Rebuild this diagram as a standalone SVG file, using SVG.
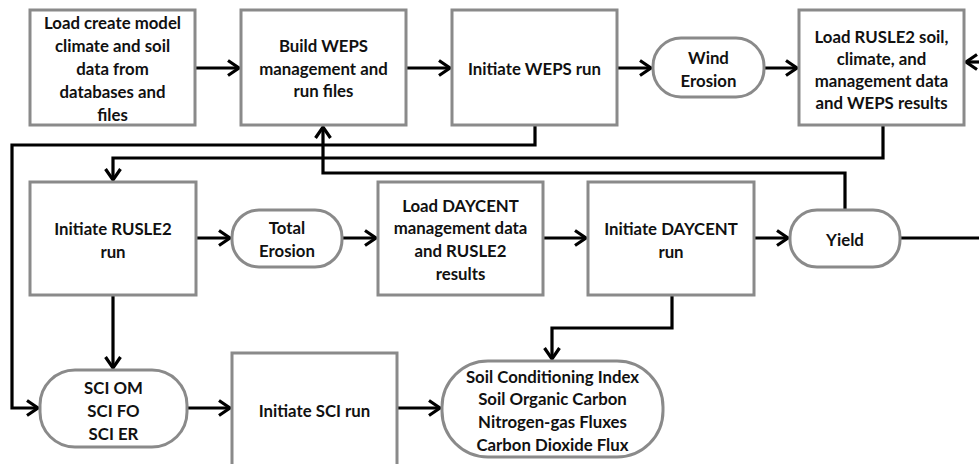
<svg xmlns="http://www.w3.org/2000/svg" width="979" height="464" viewBox="0 0 979 464">
<defs>
<marker id="ah" markerUnits="userSpaceOnUse" markerWidth="16" markerHeight="20" refX="13" refY="9" orient="auto">
<path d="M2,1.5 L13,9 L2,16.5" fill="none" stroke="#000" stroke-width="3.2" stroke-linejoin="miter"/>
</marker>
<style>
.box{fill:#fff;stroke:#8a8a8a;stroke-width:3}
.t{font-family:Lato,"Open Sans","Liberation Sans",sans-serif;font-weight:bold;font-size:16.8px;fill:#111;text-anchor:middle}
.c{fill:none;stroke:#000;stroke-width:3.2}
</style>
</defs>
<rect width="979" height="464" fill="#fff"/>
<g id="connectors">
<path class="c" d="M195,68 H239" marker-end="url(#ah)"/>
<path class="c" d="M406,68 H450" marker-end="url(#ah)"/>
<path class="c" d="M617,68 H651" marker-end="url(#ah)"/>
<path class="c" d="M764,68 H797" marker-end="url(#ah)"/>
<path class="c" d="M979,62 H966" marker-end="url(#ah)"/>
<path class="c" d="M535,125 V145 H12 V408 H38" marker-end="url(#ah)"/>
<path class="c" d="M883,125 V158 H113 V180" marker-end="url(#ah)"/>
<path class="c" d="M845,210 V173 H323 V127" marker-end="url(#ah)"/>
<path class="c" d="M196,238 H230" marker-end="url(#ah)"/>
<path class="c" d="M342,238 H376" marker-end="url(#ah)"/>
<path class="c" d="M543,238 H586" marker-end="url(#ah)"/>
<path class="c" d="M754,238 H788" marker-end="url(#ah)"/>
<path class="c" d="M900,238 H979"/>
<path class="c" d="M672,295 V328 H552 V359" marker-end="url(#ah)"/>
<path class="c" d="M113,295 V368" marker-end="url(#ah)"/>
<path class="c" d="M187,408 H230" marker-end="url(#ah)"/>
<path class="c" d="M397,408 H440" marker-end="url(#ah)"/>
</g>
<g id="load-create">
<rect class="box" x="30" y="10" width="165" height="115"/>
<text class="t" x="112.5" y="29">Load create model</text>
<text class="t" x="112.5" y="52">climate and soil</text>
<text class="t" x="112.5" y="75">data from</text>
<text class="t" x="112.5" y="98">databases and</text>
<text class="t" x="112.5" y="121">files</text>
</g>
<g id="build-weps">
<rect class="box" x="241" y="10" width="165" height="115"/>
<text class="t" x="323.5" y="52">Build WEPS</text>
<text class="t" x="323.5" y="74.5">management  and</text>
<text class="t" x="323.5" y="97">run files</text>
</g>
<g id="initiate-weps">
<rect class="box" x="452" y="10" width="165" height="115"/>
<text class="t" x="534.5" y="74.5">Initiate WEPS run</text>
</g>
<g id="wind-erosion">
<rect class="box" x="653" y="38" width="111" height="59" rx="28"/>
<text class="t" x="708.5" y="64">Wind</text>
<text class="t" x="708.5" y="86.5">Erosion</text>
</g>
<g id="load-rusle2">
<rect class="box" x="799" y="10" width="165" height="115"/>
<text class="t" x="881.5" y="42.5">Load RUSLE2 soil,</text>
<text class="t" x="881.5" y="64.5">climate, and</text>
<text class="t" x="881.5" y="86.5">management data</text>
<text class="t" x="881.5" y="108.5">and WEPS results</text>
</g>
<g id="initiate-rusle2">
<rect class="box" x="30" y="182" width="166" height="113"/>
<text class="t" x="113" y="234.5">Initiate RUSLE2</text>
<text class="t" x="113" y="257.5">run</text>
</g>
<g id="total-erosion">
<rect class="box" x="232" y="210" width="110" height="57" rx="27"/>
<text class="t" x="287" y="233.5">Total</text>
<text class="t" x="287" y="256.5">Erosion</text>
</g>
<g id="load-daycent">
<rect class="box" x="378" y="182" width="165" height="113"/>
<text class="t" x="460.5" y="211.5">Load DAYCENT</text>
<text class="t" x="460.5" y="234">management data</text>
<text class="t" x="460.5" y="256.5">and RUSLE2</text>
<text class="t" x="460.5" y="279.5">results</text>
</g>
<g id="initiate-daycent">
<rect class="box" x="588" y="182" width="166" height="113"/>
<text class="t" x="671" y="234.5">Initiate DAYCENT</text>
<text class="t" x="671" y="257.5">run</text>
</g>
<g id="yield">
<rect class="box" x="790" y="210" width="110" height="57" rx="27"/>
<text class="t" x="845" y="245.5">Yield</text>
</g>
<g id="sci">
<rect class="box" x="40" y="370" width="147" height="77" rx="35"/>
<text class="t" x="113.5" y="393.5">SCI OM</text>
<text class="t" x="113.5" y="416.5">SCI FO</text>
<text class="t" x="113.5" y="439.5">SCI ER</text>
</g>
<g id="initiate-sci">
<rect class="box" x="232" y="353" width="165" height="118"/>
<text class="t" x="314.5" y="416.5">Initiate SCI run</text>
</g>
<g id="results">
<rect class="box" x="442" y="361" width="221" height="96" rx="46"/>
<text class="t" x="552.5" y="382.5">Soil Conditioning Index</text>
<text class="t" x="552.5" y="405">Soil Organic Carbon</text>
<text class="t" x="552.5" y="428">Nitrogen-gas Fluxes</text>
<text class="t" x="552.5" y="451">Carbon Dioxide Flux</text>
</g>
</svg>
